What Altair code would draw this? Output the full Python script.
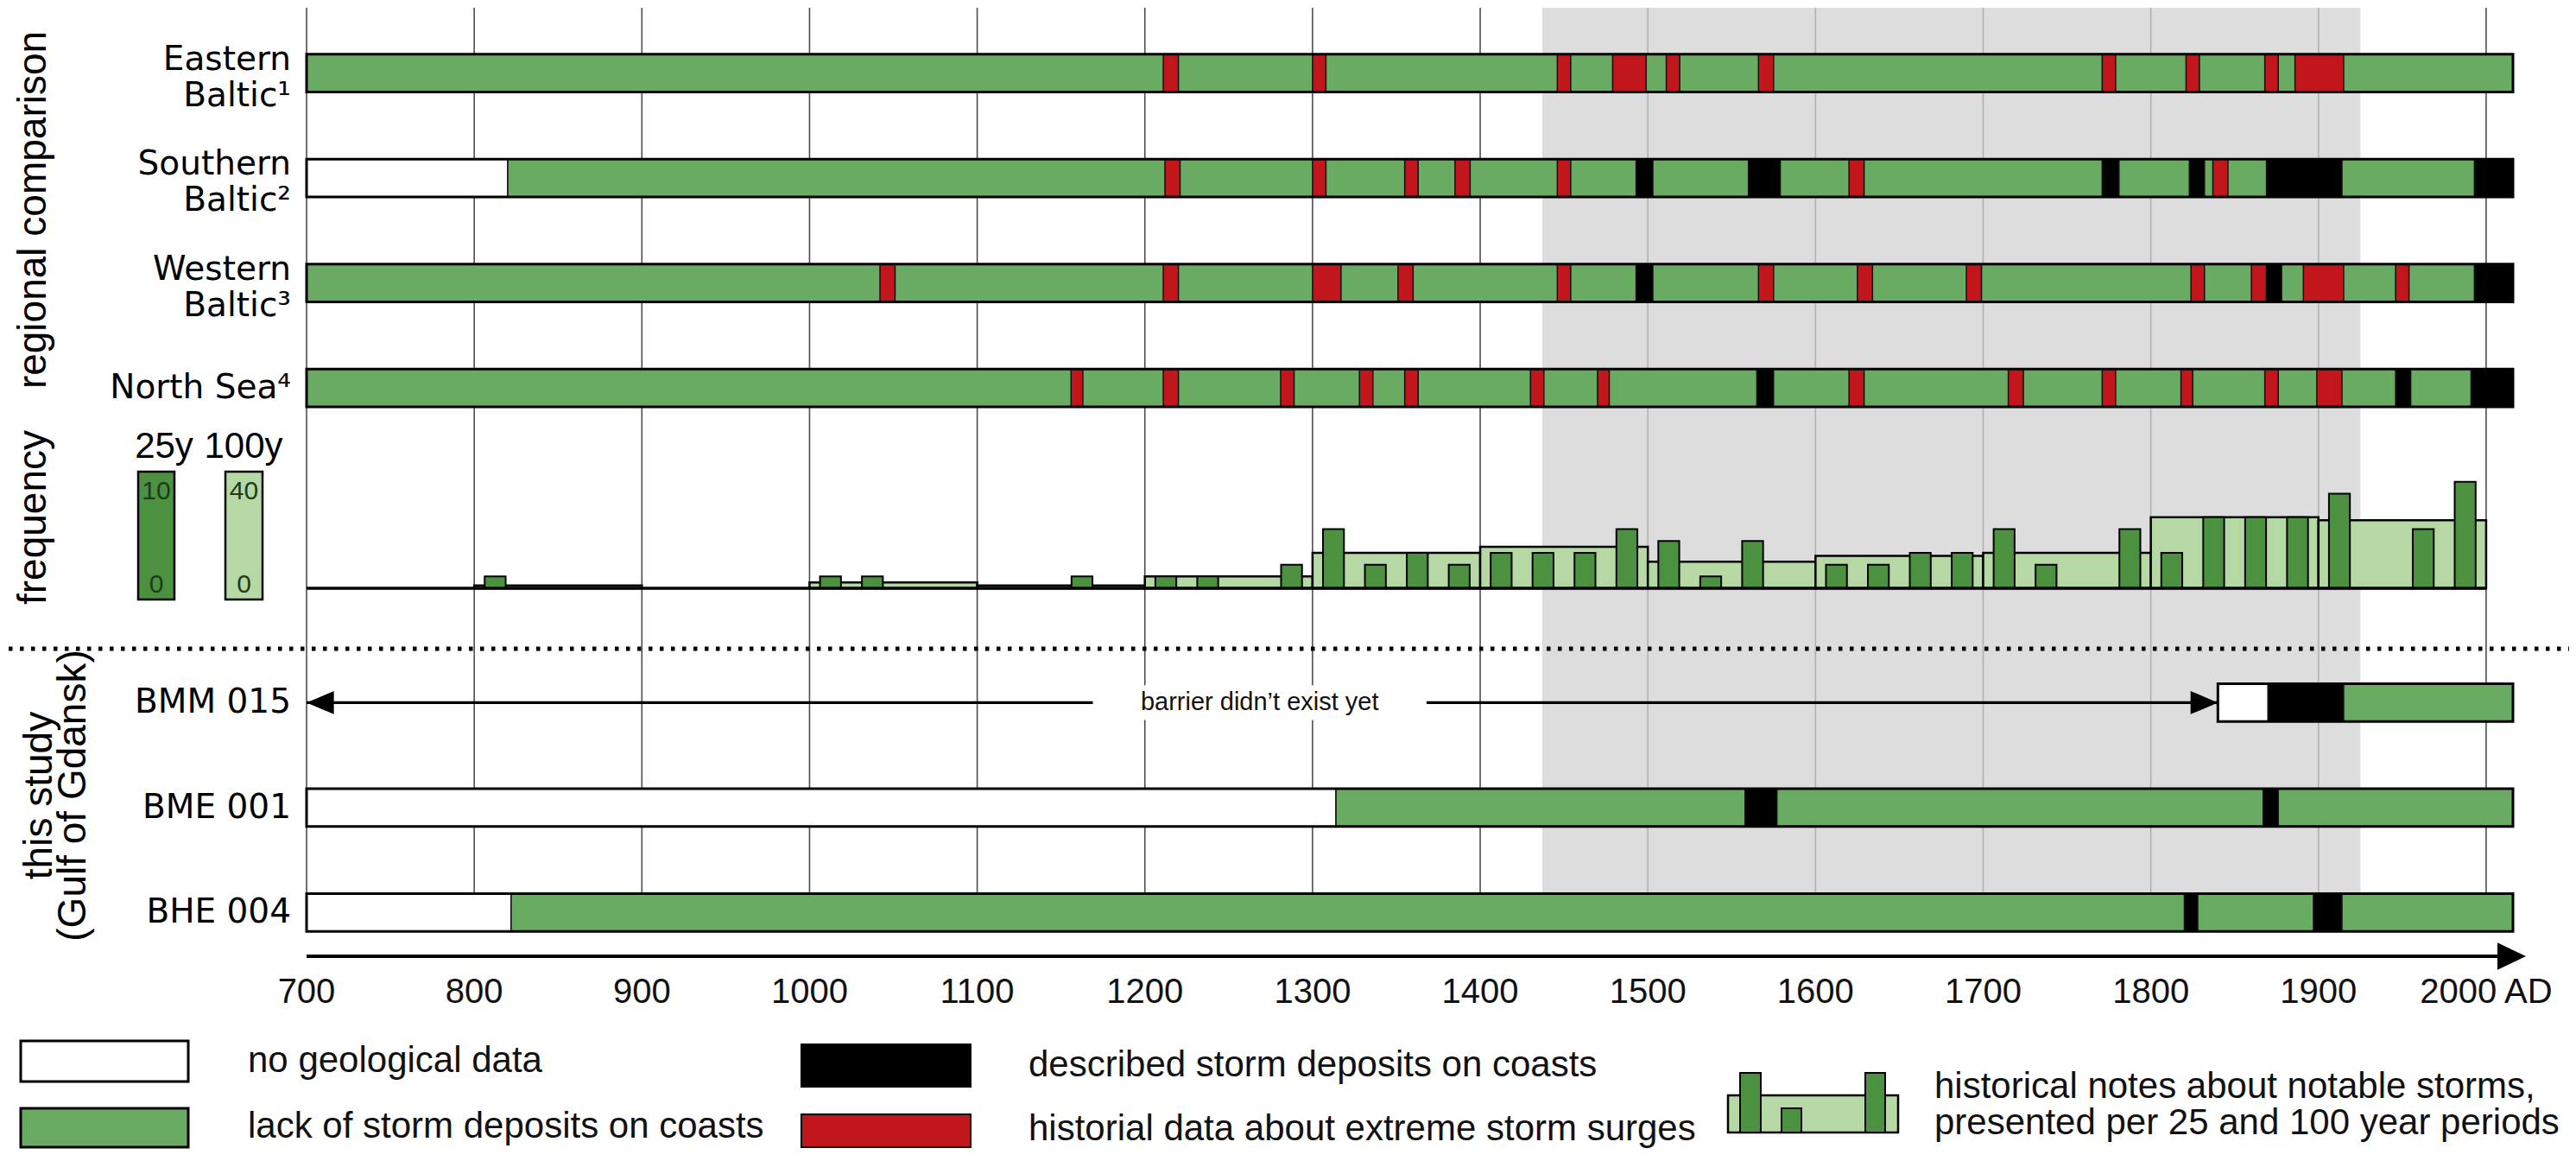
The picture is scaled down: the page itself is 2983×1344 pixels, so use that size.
import altair as alt
import pandas as pd

# ------------------------------------------------------------------ data
YEAR_MIN, YEAR_MAX = 700, 2016
tick_years = [700, 800, 900, 1000, 1100, 1200, 1300, 1400, 1500, 1600, 1700, 1800, 1900, 2000]
tick_labels = ["700", "800", "900", "1000", "1100", "1200", "1300", "1400", "1500",
               "1600", "1700", "1800", "1900", "2000 AD"]
lia_period = [1437, 1925]

rows = ["Eastern Baltic", "Southern Baltic", "Western Baltic", "North Sea",
        "BMM 015", "BME 001", "BHE 004"]
row_labels = ["Eastern\nBaltic¹", "Southern\nBaltic²", "Western\nBaltic³", "North Sea⁴",
              "BMM 015", "BME 001", "BHE 004"]
bar_start = [700, 700, 700, 700, 1840, 700, 700]
data_start = [700, 820, 700, 700, 1870, 1314, 822]
bar_end = [2016, 2016, 2016, 2016, 2016, 2016, 2016]

eastern_red = [(1211, 1220), (1300, 1308), (1446, 1454), (1479, 1499), (1511, 1519),
               (1566, 1575), (1771, 1779), (1821, 1829), (1868, 1876), (1886, 1915)]
eastern_black = []
southern_red = [(1212, 1221), (1300, 1308), (1355, 1363), (1385, 1394), (1446, 1454),
                (1620, 1629), (1837, 1846)]
southern_black = [(1493, 1503), (1560, 1579), (1771, 1781), (1823, 1832), (1869, 1914),
                  (1993, 2016)]
western_red = [(1042, 1051), (1211, 1220), (1300, 1317), (1351, 1360), (1446, 1454),
               (1566, 1575), (1625, 1634), (1690, 1699), (1824, 1832), (1860, 1869),
               (1891, 1915), (1946, 1954)]
western_black = [(1493, 1503), (1869, 1878), (1993, 2016)]
northsea_red = [(1156, 1163), (1211, 1220), (1281, 1289), (1328, 1336), (1355, 1363),
                (1430, 1438), (1470, 1477), (1620, 1629), (1715, 1724), (1771, 1779),
                (1818, 1825), (1868, 1876), (1899, 1914)]
northsea_black = [(1565, 1575), (1946, 1955), (1991, 2016)]
bmm_black = [(1870, 1915)]
bme_black = [(1558, 1577), (1867, 1876)]
bhe_black = [(1820, 1828), (1897, 1914)]

period25_start = [800, 1000, 1025, 1150, 1200, 1225, 1275, 1300, 1325, 1350, 1375,
                  1400, 1425, 1450, 1475, 1500, 1525, 1550, 1600, 1625, 1650, 1675,
                  1700, 1725, 1775, 1800, 1825, 1850, 1875, 1900, 1950, 1975]
period25_count = [1, 1, 1, 1, 1, 1, 2, 5, 2, 3, 2,
                  3, 3, 3, 5, 4, 1, 4, 2, 2, 3, 3,
                  5, 2, 5, 3, 6, 6, 6, 8, 5, 9]
period100_start = [800, 1000, 1100, 1200, 1300, 1400, 1500, 1600, 1700, 1800, 1900]
period100_count = [1, 2, 1, 4, 12, 14, 9, 11, 12, 24, 23]
freq_span = [700, 2000]

barrier_absent = [700, 1840]
barrier_text_gap = [1169, 1368]
barrier_text = "barrier didn’t exist yet"

legend_texts = ["no geological data", "lack of storm deposits on coasts",
                "described storm deposits on coasts", "historial data about extreme storm surges",
                "historical notes about notable storms,", "presented per 25 and 100 year periods"]

# ------------------------------------------------------------------ style
GREEN = "#6aab63"
DARK_GREEN = "#4b913f"
LIGHT_GREEN = "#b5d8a5"
RED = "#c1161c"
GREY = "#d2d2d2"
SANS = "Liberation Sans, Arial, sans-serif"
WIDE = "DejaVu Sans, sans-serif"

W, H = 2555, 1093
lanes = ["Eastern Baltic", "Southern Baltic", "Western Baltic", "North Sea",
         "freq_upper", "freq_lower", "BMM 015", "BME 001", "BHE 004"]

xs = alt.Scale(domain=[YEAR_MIN, YEAR_MAX], nice=False, zero=False)


def lane_scale():
    return alt.Scale(type="band", domain=lanes, paddingInner=0, paddingOuter=0)


def fy():
    return alt.Scale(domain=[-31.82, 47.96], nice=False, zero=False)


dummy = pd.DataFrame({"k": [0]})


def vrect(x0, x1, y0, y1, **style):
    return alt.Chart(dummy).mark_rect(**style).encode(
        x=alt.value(x0), x2=alt.value(x1), y=alt.value(y0), y2=alt.value(y1))


def vtext(s, x, y, **style):
    return alt.Chart(dummy).mark_text(**style).encode(
        x=alt.value(x), y=alt.value(y), text=alt.value(s))


# ------------------------------------------------------------------ tables
seg = []
for i, r in enumerate(rows):
    if data_start[i] > bar_start[i]:
        seg.append(dict(lane=r, start=bar_start[i], end=data_start[i], kind="none"))
    seg.append(dict(lane=r, start=data_start[i], end=bar_end[i], kind="lack"))
events = [("Eastern Baltic", eastern_red, "hist"), ("Eastern Baltic", eastern_black, "desc"),
          ("Southern Baltic", southern_red, "hist"), ("Southern Baltic", southern_black, "desc"),
          ("Western Baltic", western_red, "hist"), ("Western Baltic", western_black, "desc"),
          ("North Sea", northsea_red, "hist"), ("North Sea", northsea_black, "desc"),
          ("BMM 015", bmm_black, "desc"), ("BME 001", bme_black, "desc"),
          ("BHE 004", bhe_black, "desc")]
for lane, lst, kind in events:
    for a, b in lst:
        seg.append(dict(lane=lane, start=a, end=b, kind=kind))
seg_df = pd.DataFrame(seg)
outline_df = pd.DataFrame({"lane": rows, "start": bar_start, "end": bar_end})
label_df = pd.DataFrame({"lane": rows, "label": row_labels})
label_df["lines"] = label_df["label"].str.count("\n") + 1
tick_df = pd.DataFrame({"year": tick_years, "label": tick_labels})
f25 = pd.DataFrame({"start": period25_start, "count": period25_count})
f100 = pd.DataFrame({"start": period100_start, "count": period100_count})

# ------------------------------------------------------------------ layers
grid = alt.Chart(tick_df).mark_rule(color="#4d4d4d", strokeWidth=1.6).encode(
    x=alt.X("year:Q", scale=xs, axis=None), y=alt.value(-15), y2=alt.value(1045))

band = alt.Chart(pd.DataFrame({"a": [lia_period[0]], "b": [lia_period[1]]})).mark_rect(
    color=GREY, opacity=0.75).encode(
    x=alt.X("a:Q", scale=xs, axis=None), x2="b:Q", y=alt.value(-15), y2=alt.value(1045))

dotted = alt.Chart(dummy).mark_rule(color="black", strokeWidth=5, strokeDash=[4.5, 8.5]).encode(
    x=alt.value(-345), x2=alt.value(2625), y=alt.value(727))

box100 = alt.Chart(f100).transform_calculate(
    end="datum.start + 100", zero="0", h="datum.count / 4").mark_rect(
    color=LIGHT_GREEN, stroke="black", strokeWidth=2.5).encode(
    x=alt.X("start:Q", scale=xs, axis=None), x2="end:Q",
    y=alt.Y("zero:Q", scale=fy(), axis=None), y2="h:Q")

bar25 = alt.Chart(f25).transform_calculate(
    x0="datum.start + 6.25", x1="datum.start + 18.75", zero="0").mark_rect(
    color=DARK_GREEN, stroke="black", strokeWidth=2).encode(
    x=alt.X("x0:Q", scale=xs, axis=None), x2="x1:Q",
    y=alt.Y("zero:Q", scale=fy(), axis=None), y2="count:Q")

baseline = alt.Chart(pd.DataFrame({"a": [freq_span[0]], "b": [freq_span[1]], "z": [0]})).mark_rule(
    color="black", strokeWidth=3.5).encode(
    x=alt.X("a:Q", scale=xs, axis=None), x2="b:Q", y=alt.Y("z:Q", scale=fy(), axis=None))

segments = alt.Chart(seg_df).mark_bar(
    height=alt.RelativeBandSize(0.36), stroke="#111111", strokeWidth=1.5).encode(
    x=alt.X("start:Q", scale=xs, axis=None), x2="end:Q",
    y=alt.Y("lane:N", scale=lane_scale(), axis=None),
    color=alt.Color("kind:N", legend=None,
                    scale=alt.Scale(domain=["none", "lack", "desc", "hist"],
                                    range=["white", GREEN, "black", RED])))

outlines = alt.Chart(outline_df).mark_bar(
    height=alt.RelativeBandSize(0.36), fillOpacity=0, stroke="black", strokeWidth=3).encode(
    x=alt.X("start:Q", scale=xs, axis=None), x2="end:Q",
    y=alt.Y("lane:N", scale=lane_scale(), axis=None))

bdf = pd.DataFrame({"lane": ["BMM 015"], "a": [barrier_absent[0]], "b": [barrier_absent[1]],
                    "ga": [barrier_text_gap[0]], "gb": [barrier_text_gap[1]],
                    "mid": [(barrier_text_gap[0] + barrier_text_gap[1]) / 2],
                    "txt": [barrier_text]})
b_line = alt.Chart(bdf).mark_bar(height=alt.RelativeBandSize(0.028), color="black").encode(
    x=alt.X("a:Q", scale=xs, axis=None), x2="b:Q",
    y=alt.Y("lane:N", scale=lane_scale(), axis=None))
b_gap = alt.Chart(bdf).mark_bar(height=alt.RelativeBandSize(0.33), color="white").encode(
    x=alt.X("ga:Q", scale=xs, axis=None), x2="gb:Q",
    y=alt.Y("lane:N", scale=lane_scale(), axis=None))
b_text = alt.Chart(bdf).mark_text(font=SANS, fontSize=29, color="#111111").encode(
    x=alt.X("mid:Q", scale=xs, axis=None),
    y=alt.Y("lane:N", scale=lane_scale(), axis=None), text="txt:N")
b_left = alt.Chart(bdf).mark_point(shape="M0,0L2,-0.85L2,0.85Z", size=1000, filled=True,
                                   color="black", opacity=1).encode(
    x=alt.X("a:Q", scale=xs, axis=None), y=alt.Y("lane:N", scale=lane_scale(), axis=None))
b_right = alt.Chart(bdf).mark_point(shape="M0,0L-2,-0.85L-2,0.85Z", size=1000, filled=True,
                                    color="black", opacity=1).encode(
    x=alt.X("b:Q", scale=xs, axis=None), y=alt.Y("lane:N", scale=lane_scale(), axis=None))

label_style = dict(align="right", baseline="middle", font=WIDE, fontSize=39,
                   lineBreak="\n", lineHeight=42, color="black")
labels1 = alt.Chart(label_df).transform_filter("datum.lines == 1").mark_text(
    **label_style).encode(
    x=alt.value(-18), y=alt.Y("lane:N", scale=lane_scale(), axis=None), text="label:N")
labels2 = alt.Chart(label_df).transform_filter("datum.lines == 2").mark_text(
    dy=-16, **label_style).encode(
    x=alt.value(-18), y=alt.Y("lane:N", scale=lane_scale(), axis=None), text="label:N")

rot1 = vtext("regional comparison", -316, 219, angle=270, font=SANS, fontSize=46,
             align="center", baseline="middle")
rot2 = vtext("frequency", -316, 575, angle=270, font=SANS, fontSize=46,
             align="center", baseline="middle")
rot3 = alt.Chart(pd.DataFrame({"t": ["this study\n(Gulf of Gdansk)"]})).mark_text(
    angle=270, font=SANS, fontSize=46, align="center", baseline="middle",
    lineBreak="\n", lineHeight=39).encode(x=alt.value(-309), y=alt.value(897), text="t:N")

# frequency key
num_style = dict(font=SANS, fontSize=30, color="#1f3b1c", align="center", baseline="middle")
fk = [
    vtext("25y", -165, 493, font=SANS, fontSize=42, align="center", baseline="middle"),
    vtext("100y", -73, 493, font=SANS, fontSize=42, align="center", baseline="middle"),
    vrect(-195, -153, 522, 670, color=DARK_GREEN, stroke="black", strokeWidth=2.5),
    vrect(-94, -51, 522, 670, color=LIGHT_GREEN, stroke="black", strokeWidth=2.5),
    vtext("10", -174, 545, **num_style),
    vtext("0", -174, 653, **num_style),
    vtext("40", -72.5, 545, **num_style),
    vtext("0", -72.5, 653, **num_style),
]

# time axis
axis_line = alt.Chart(pd.DataFrame({"a": [YEAR_MIN]})).mark_rule(
    color="black", strokeWidth=4).encode(
    x=alt.X("a:Q", scale=xs, axis=None), x2=alt.value(2548), y=alt.value(1083))
axis_head = alt.Chart(dummy).mark_point(shape="M0,0L-2,-0.95L-2,0.95Z", size=1089, filled=True,
                                        color="black", opacity=1).encode(
    x=alt.value(2570), y=alt.value(1083))
tick_text = alt.Chart(tick_df).mark_text(font=SANS, fontSize=40, baseline="middle",
                                         align="center", color="#111111").encode(
    x=alt.X("year:Q", scale=xs, axis=None), y=alt.value(1125), text="label:N")

# bottom legend
lg = [
    vrect(-331, -137, 1181, 1228, color="white", stroke="black", strokeWidth=3),
    vrect(-331, -137, 1259, 1304, color=GREEN, stroke="black", strokeWidth=3),
    vrect(573, 769, 1185, 1234, color="black", stroke="black", strokeWidth=2),
    vrect(573, 769, 1266, 1304, color=RED, stroke="black", strokeWidth=2),
    vrect(1646, 1843, 1244, 1287, color=LIGHT_GREEN, stroke="black", strokeWidth=2.5),
    vrect(1660, 1684, 1218, 1287, color=DARK_GREEN, stroke="black", strokeWidth=2),
    vrect(1708, 1731, 1259, 1287, color=DARK_GREEN, stroke="black", strokeWidth=2),
    vrect(1805, 1828, 1218, 1287, color=DARK_GREEN, stroke="black", strokeWidth=2),
]
lt_style = dict(font=SANS, fontSize=42, align="left", baseline="middle", color="#111111")
lg += [
    vtext(legend_texts[0], -68, 1204, **lt_style),
    vtext(legend_texts[1], -68, 1280, **lt_style),
    vtext(legend_texts[2], 836, 1209, **lt_style),
    vtext(legend_texts[3], 836, 1283, **lt_style),
    vtext(legend_texts[4], 1885, 1234, **lt_style),
    vtext(legend_texts[5], 1885, 1276, **lt_style),
]

chart = alt.layer(
    grid, band, dotted, box100, bar25, baseline, b_line, b_gap, b_text, b_left, b_right,
    segments, outlines, labels1, labels2, rot1, rot2, rot3, *fk, axis_line, axis_head,
    tick_text, *lg
).resolve_scale(y="independent").properties(
    width=W, height=H,
    padding={"left": 347, "top": 16, "right": 65, "bottom": 215},
    autosize=alt.AutoSizeParams(type="none"),
    background="white",
).configure_view(strokeWidth=0)

chart.save("out.html", embed_options={"renderer": "svg", "actions": False})
